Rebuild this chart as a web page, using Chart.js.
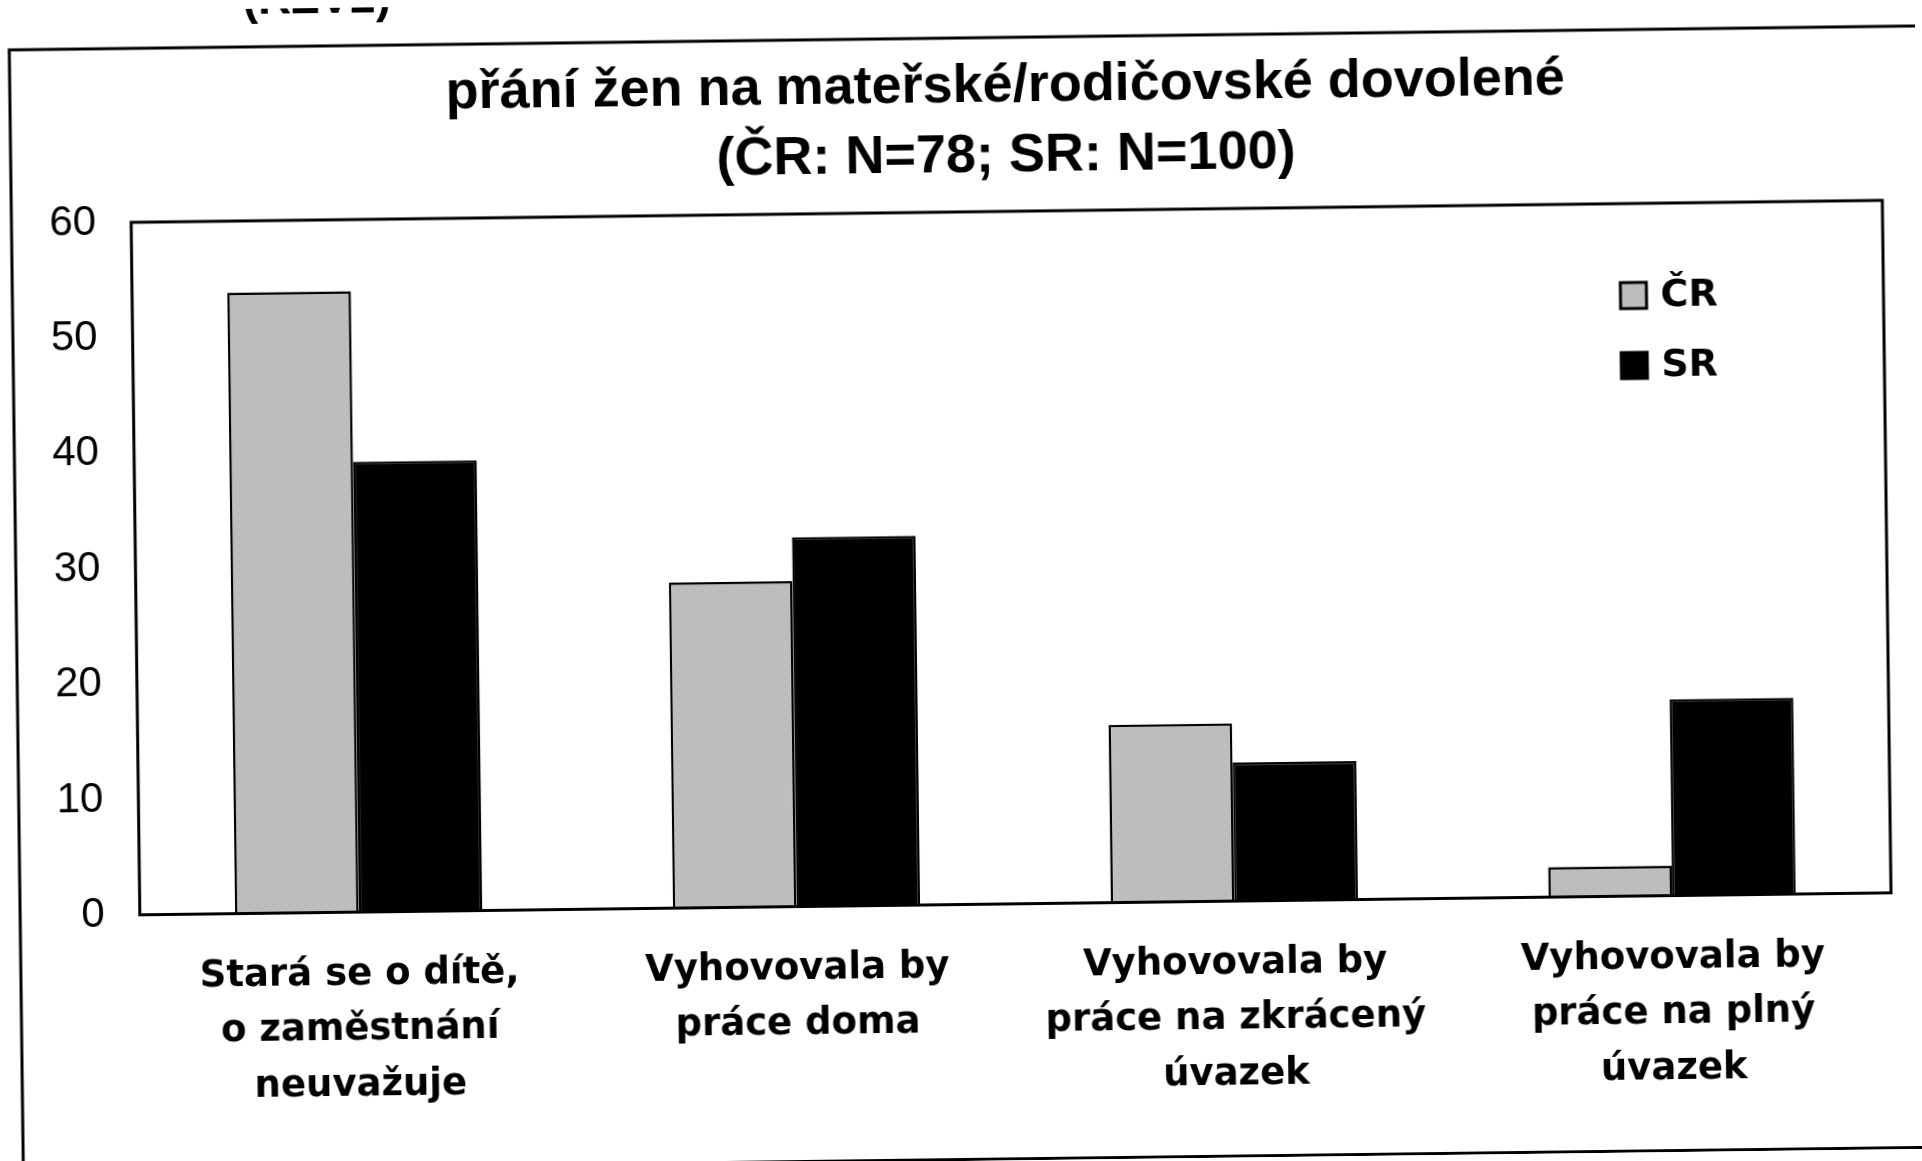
<!DOCTYPE html>
<html>
<head>
<meta charset="utf-8">
<script src="https://cdn.jsdelivr.net/npm/chart.js@4.4.1/dist/chart.umd.min.js"></script>
<style>
body { margin: 0; background: #fff; overflow: hidden; }
#myChart { display: block; transform: rotate(-0.72deg); transform-origin: 50% 50%; }
</style>
</head>
<body>
<canvas id="myChart" width="1922" height="1161"></canvas>
<script>
var kategorie = [
    ['Stará se o dítě,', 'o zaměstnání', 'neuvažuje'],
    ['Vyhovovala by', 'práce doma'],
    ['Vyhovovala by', 'práce na zkrácený', 'úvazek'],
    ['Vyhovovala by', 'práce na plný', 'úvazek']
];
var hodnotyCR = [53.8, 28.2, 15.4, 2.6];
var hodnotySR = [39, 32, 12, 17];
var osaY = [0, 10, 20, 30, 40, 50, 60];
var nadpis = ['přání žen na mateřské/rodičovské dovolené', '(ČR: N=78; SR: N=100)'];
var pismo = '"Liberation Sans", Arial, sans-serif';
var pismoSiroke = '"DejaVu Sans", Verdana, sans-serif';

// ramecek kolem celeho obrazku + kolem grafu
var ramecek = {
    id: 'ramecek',
    beforeDraw: function (chart) {
        var ctx = chart.ctx;
        ctx.save();
        ctx.fillStyle = '#fff';
        ctx.fillRect(0, 0, chart.width, chart.height);
        ctx.strokeStyle = '#000';
        ctx.lineWidth = 3;
        ctx.beginPath();
        ctx.moveTo(chart.width + 5, 38);
        ctx.lineTo(16, 38);
        ctx.lineTo(16, chart.height - 1.5);
        ctx.lineTo(chart.width + 5, chart.height - 1.5);
        ctx.stroke();
        ctx.fillStyle = '#000';
        ctx.font = 'bold 46px ' + pismo;
        ctx.textBaseline = 'alphabetic';
        ctx.fillText('(RZV2)', 250, 5);
        ctx.restore();
    },
    afterDatasetsDraw: function (chart) {
        var a = chart.chartArea, ctx = chart.ctx;
        ctx.save();
        ctx.strokeStyle = '#000';
        ctx.lineWidth = 3;
        ctx.strokeRect(a.left, a.top, a.right - a.left, a.bottom - a.top);
        ctx.restore();
    }
};

var legenda = {
    id: 'legenda',
    afterDraw: function (chart) {
        var ctx = chart.ctx, a = chart.chartArea;
        ctx.save();
        ctx.font = 'bold 38px ' + pismoSiroke;
        ctx.textBaseline = 'middle';
        chart.data.datasets.forEach(function (ds, i) {
            var x = a.right - 263;
            var y = a.top + 92 + i * 70;
            ctx.fillStyle = ds.backgroundColor;
            ctx.fillRect(x, y - 13, 26, 26);
            ctx.strokeStyle = '#000';
            ctx.lineWidth = 3;
            ctx.strokeRect(x, y - 13, 26, 26);
            ctx.fillStyle = '#000';
            ctx.fillText(ds.label, x + 40, y + 1);
        });
        ctx.restore();
    }
};

var cvas = document.getElementById('myChart').getContext('2d');
var myChart = new Chart(cvas, {
    type: 'bar',
    data: {
        labels: kategorie,
        datasets: [{
            label: 'ČR',
            data: hodnotyCR,
            backgroundColor: '#bdbdbd',
            borderColor: '#000',
            borderWidth: 2.5,
            categoryPercentage: 0.565,
            barPercentage: 1
        },
        {
            label: 'SR',
            data: hodnotySR,
            backgroundColor: '#000',
            borderColor: '#000',
            borderWidth: 2.5,
            categoryPercentage: 0.565,
            barPercentage: 1
        }]
    },
    options: {
        responsive: false,
        animation: false,
        layout: {
            padding: { top: 0, left: 19, right: 35, bottom: 20 }
        },
        plugins: {
            legend: { display: false },
            tooltip: { enabled: false },
            title: {
                display: true,
                text: nadpis,
                fullSize: false,
                color: '#000',
                font: { family: pismo, size: 54, weight: 'bold', lineHeight: 1.296 },
                padding: { top: 52, bottom: 20 }
            }
        },
        scales: {
            x: {
                grid: { display: false, drawTicks: false },
                border: { display: false },
                ticks: {
                    color: '#000',
                    autoSkip: false,
                    maxRotation: 0,
                    padding: 35,
                    font: { family: pismoSiroke, size: 37, weight: 'bold', lineHeight: 1.5 }
                }
            },
            y: {
                min: 0,
                max: 60,
                grid: { display: false, drawTicks: false },
                border: { display: false },
                afterBuildTicks: function (axis) {
                    axis.ticks = osaY.map(function (v) { return { value: v }; });
                },
                ticks: {
                    color: '#000',
                    padding: 35,
                    font: { family: pismo, size: 42 }
                }
            }
        }
    },
    plugins: [ramecek, legenda]
});
</script>
</body>
</html>
